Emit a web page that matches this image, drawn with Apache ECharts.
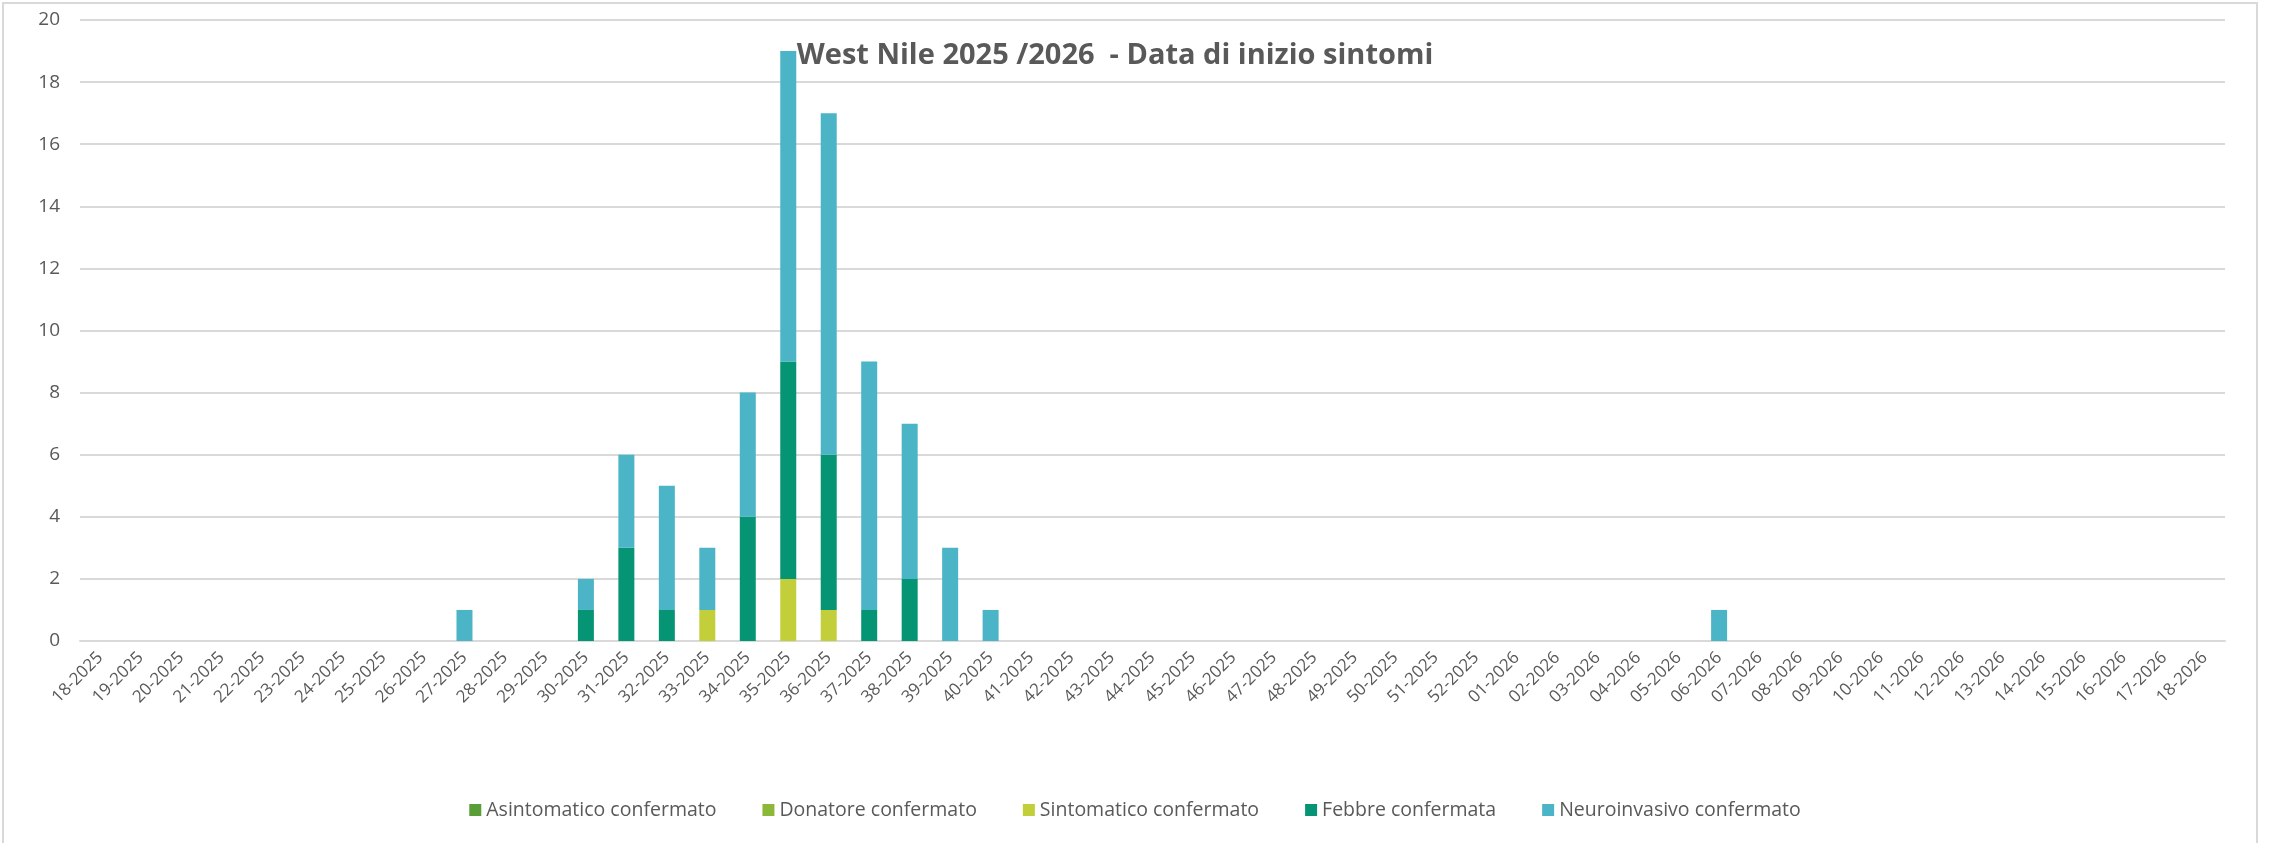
<!DOCTYPE html>
<html>
<head>
<meta charset="utf-8">
<script src="https://cdn.jsdelivr.net/npm/echarts@6/dist/echarts.min.js"></script>
<style>
  html, body { margin: 0; padding: 0; background: #fff; }
  #chart { width: 2270px; height: 843px; }
</style>
</head>
<body>
<div id="chart"></div>
<script>
// weeks 18-2025 .. 52-2025, then 01-2026 .. 18-2026
const weeks = [
  "18-2025","19-2025","20-2025","21-2025","22-2025","23-2025","24-2025","25-2025","26-2025","27-2025",
  "28-2025","29-2025","30-2025","31-2025","32-2025","33-2025","34-2025","35-2025","36-2025","37-2025",
  "38-2025","39-2025","40-2025","41-2025","42-2025","43-2025","44-2025","45-2025","46-2025","47-2025",
  "48-2025","49-2025","50-2025","51-2025","52-2025",
  "01-2026","02-2026","03-2026","04-2026","05-2026","06-2026","07-2026","08-2026","09-2026","10-2026",
  "11-2026","12-2026","13-2026","14-2026","15-2026","16-2026","17-2026","18-2026"
];

const asintomatico = [
  0,0,0,0,0,0,0,0,0,0, 0,0,0,0,0,0,0,0,0,0, 0,0,0,0,0,0,0,0,0,0, 0,0,0,0,0,
  0,0,0,0,0,0,0,0,0,0, 0,0,0,0,0,0,0,0
];
const donatore = [
  0,0,0,0,0,0,0,0,0,0, 0,0,0,0,0,0,0,0,0,0, 0,0,0,0,0,0,0,0,0,0, 0,0,0,0,0,
  0,0,0,0,0,0,0,0,0,0, 0,0,0,0,0,0,0,0
];
const sintomatico = [
  0,0,0,0,0,0,0,0,0,0, 0,0,0,0,0,1,0,2,1,0, 0,0,0,0,0,0,0,0,0,0, 0,0,0,0,0,
  0,0,0,0,0,0,0,0,0,0, 0,0,0,0,0,0,0,0
];
const febbre = [
  0,0,0,0,0,0,0,0,0,0, 0,0,1,3,1,0,4,7,5,1, 2,0,0,0,0,0,0,0,0,0, 0,0,0,0,0,
  0,0,0,0,0,0,0,0,0,0, 0,0,0,0,0,0,0,0
];
const neuro = [
  0,0,0,0,0,0,0,0,0,1, 0,0,1,3,4,2,4,10,11,8, 5,3,1,0,0,0,0,0,0,0, 0,0,0,0,0,
  0,0,0,0,0,1,0,0,0,0, 0,0,0,0,0,0,0,0
];

const seriesNames = ["Asintomatico confermato", "Donatore confermato", "Sintomatico confermato", "Febbre confermata", "Neuroinvasivo confermato"];
const seriesColors = ["#5a9e37", "#8cb83a", "#c3cf3a", "#069574", "#4bb4c6"];
const seriesData = [asintomatico, donatore, sintomatico, febbre, neuro];

const chart = echarts.init(document.getElementById("chart"));
const labelColor = "#595959";
const font = "'Open Sans', 'Noto Sans', sans-serif";

chart.setOption({
  animation: false,
  textStyle: { fontFamily: font },
  title: {
    text: "West Nile 2025 /2026  - Data di inizio sintomi",
    left: 1110,
    textAlign: "center",
    top: 36,
    textStyle: { fontSize: 29, fontWeight: "bold", color: "#595959", fontFamily: font }
  },
  graphic: [{
    type: "rect",
    shape: { x: 3, y: 3, width: 2254, height: 850 },
    style: { fill: "none", stroke: "#d9d9d9", lineWidth: 2 },
    silent: true
  }],
  legend: {
    bottom: 18,
    left: "center",
    itemWidth: 12,
    itemHeight: 12,
    itemGap: 46,
    icon: "rect",
    textStyle: { fontSize: 19.5, color: labelColor, fontFamily: font },
    data: seriesNames
  },
  grid: { left: 80, right: 45, top: 20, bottom: 202, containLabel: false },
  xAxis: {
    type: "category",
    data: weeks,
    axisLine: { show: true, lineStyle: { color: "#d9d9d9", width: 2 } },
    axisTick: { show: false },
    axisLabel: { interval: 0, rotate: 45, margin: 14, fontSize: 17, color: labelColor, fontFamily: font }
  },
  yAxis: {
    type: "value",
    min: 0,
    max: 20,
    interval: 2,
    axisLine: { show: false },
    axisTick: { show: false },
    splitLine: { lineStyle: { color: "#d9d9d9", width: 2 } },
    axisLabel: { margin: 20, fontSize: 19, color: labelColor, fontFamily: font }
  },
  series: seriesNames.map((name, i) => ({
    name: name,
    type: "bar",
    stack: "tot",
    barWidth: 16,
    itemStyle: { color: seriesColors[i] },
    data: seriesData[i]
  }))
});
</script>
</body>
</html>
